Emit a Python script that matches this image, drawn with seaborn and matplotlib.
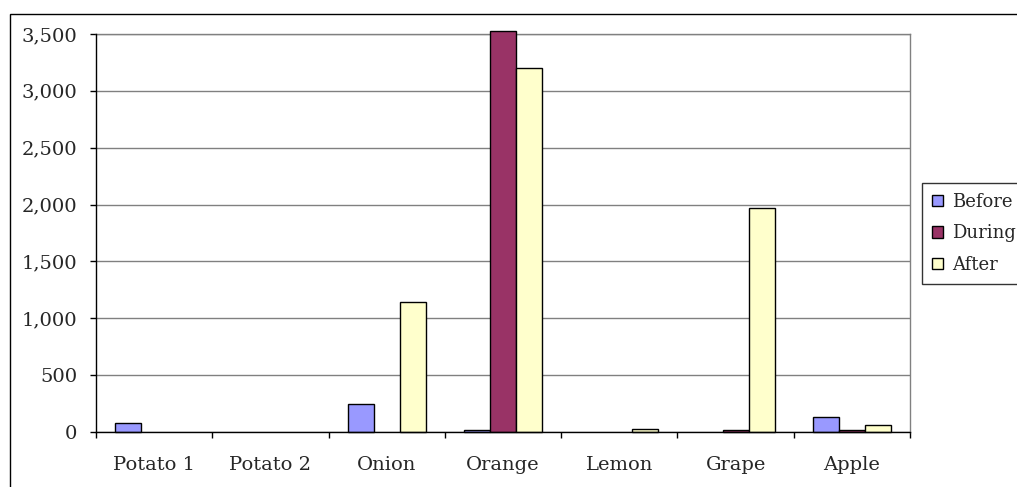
import matplotlib
matplotlib.use("Agg")
import matplotlib.pyplot as plt
import matplotlib.ticker as mticker
from matplotlib.patches import Rectangle, Patch
import seaborn as sns
import pandas as pd
import numpy as np

categories = ["Potato 1", "Potato 2", "Onion", "Orange", "Lemon", "Grape", "Apple"]
series = ["Before", "During", "After"]
before = [80, 0, 250, 15, 0, 0, 130]
during = [0, 0, 0, 3530, 0, 15, 15]
after = [0, 0, 1140, 3200, 30, 1970, 65]
colors = ["#9999FF", "#993366", "#FFFFCC"]
y_ticks = [0, 500, 1000, 1500, 2000, 2500, 3000, 3500]

df = pd.DataFrame({
    "category": categories * 3,
    "series": ["Before"] * 7 + ["During"] * 7 + ["After"] * 7,
    "value": before + during + after,
})

sns.set_style("white")
plt.rcParams["font.family"] = ["DejaVu Serif"]

fig = plt.figure(figsize=(10.17, 4.87), dpi=100)
ax = fig.add_axes([96 / 1017, 55 / 487, (910 - 96) / 1017, (432 - 34) / 487])

sns.barplot(data=df, x="category", y="value", hue="series", order=categories,
            hue_order=series, palette=colors, width=0.67, errorbar=None,
            edgecolor="black", linewidth=1.0, saturation=1, ax=ax, legend=False,
            zorder=3)
for p in ax.patches:
    p.set_clip_on(False)
    if p.get_height() == 0:
        p.set_visible(False)

ax.set_ylim(0, 3500)
ax.set_xlim(-0.5, len(categories) - 0.5)
ax.set_yticks(y_ticks)
ax.yaxis.set_major_formatter(mticker.FuncFormatter(lambda v, p: f"{int(v):,}"))
ax.grid(axis="y", color="#808080", linewidth=1.0, zorder=0)
ax.set_axisbelow(True)

ax.set_xticks(np.arange(-0.5, len(categories)), labels=[""] * (len(categories) + 1))
ax.set_xticks(np.arange(len(categories)), labels=categories, minor=True)
ax.tick_params(axis="x", which="major", direction="out", length=4.5, width=1, color="black", bottom=True)
ax.tick_params(axis="x", which="minor", length=0, labelsize=14, pad=17)
ax.tick_params(axis="y", direction="out", length=4.5, width=1, color="black", left=True, labelsize=14, pad=9)
ax.set_xlabel("")
ax.set_ylabel("")

for s in ["left", "bottom"]:
    ax.spines[s].set_color("black")
    ax.spines[s].set_linewidth(1.0)
    ax.spines[s].set_zorder(4)
for s in ["top", "right"]:
    ax.spines[s].set_color("#808080")
    ax.spines[s].set_linewidth(1.0)

handles = [Patch(facecolor=c, edgecolor="black", linewidth=1.0) for c in colors]
leg = fig.legend(handles, series, loc="upper left", bbox_to_anchor=(922 / 1017, 1 - 183 / 487),
                 frameon=True, fancybox=False, edgecolor="black", fontsize=13,
                 handlelength=0.6, handleheight=0.6, handletextpad=0.5,
                 labelspacing=0.75, borderpad=0.55, borderaxespad=0)
leg.get_frame().set_linewidth(1.0)

fig.patches.append(Rectangle((10 / 1017, -0.1), 1.2, 0.1 + (487 - 14) / 487,
                             transform=fig.transFigure, fill=False,
                             edgecolor="black", linewidth=1.0))

fig.savefig("out.png", dpi=100)
